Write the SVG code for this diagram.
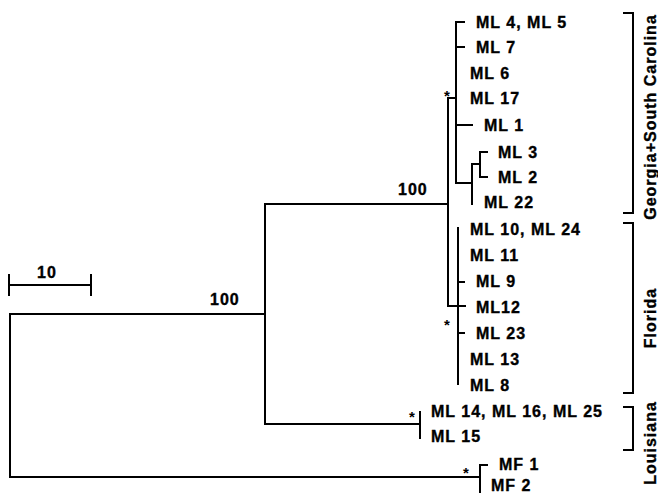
<svg xmlns="http://www.w3.org/2000/svg" width="658" height="495" viewBox="0 0 658 495">
<style>
.t{font-family:"Liberation Sans",Arial,sans-serif;font-weight:bold;font-size:16px;letter-spacing:1px;fill:#000;stroke:#000;stroke-width:0.35}
.s{font-family:"Liberation Sans",Arial,sans-serif;font-weight:bold;font-size:15px;fill:#000;text-anchor:middle}
.r{font-family:"Liberation Sans",Arial,sans-serif;font-weight:bold;font-size:16px;letter-spacing:1px;fill:#000;stroke:#000;stroke-width:0.35;text-anchor:middle}
.l{fill:none;stroke:#000;stroke-width:2;stroke-linecap:square}
</style>
<rect width="658" height="495" fill="#fff"/>
<g id="connectors" class="l">
<path d="M10,314V477M10,314H265M10,477H480"/>
<path d="M265,204V424M265,204H448M265,424H420"/>
<path d="M420,412V438"/>
<path d="M480,465V492M480,465H487"/>
<path d="M448,98V306M448,98H456M448,306H465"/>
<path d="M456,22V183M456,22H464M456,47H464M456,125H472M456,183H472"/>
<path d="M472,164V204M472,164H480M480,152V177M480,152H487M480,177H487"/>
<path d="M458,228V384M458,282H464M458,333H464"/>
</g>
<g id="scale"><path class="l" d="M9,285H91M9,275V295M91,275V295"/><text class="t" x="37" y="278">10</text></g>
<g id="support"><text class="t" x="210" y="305">100</text><text class="t" x="398" y="195">100</text></g>
<g id="stars"><text class="s" x="447" y="101">*</text><text class="s" x="447" y="330">*</text><text class="s" x="412" y="422">*</text><text class="s" x="466" y="478">*</text></g>
<g id="leaves">
<g id="ML4"><text class="t" x="476" y="28">ML 4, ML 5</text></g>
<g id="ML7"><text class="t" x="476" y="53">ML 7</text></g>
<g id="ML6"><text class="t" x="470" y="79">ML 6</text></g>
<g id="ML17"><text class="t" x="470" y="104">ML 17</text></g>
<g id="ML1"><text class="t" x="484" y="131">ML 1</text></g>
<g id="ML3"><text class="t" x="498" y="158">ML 3</text></g>
<g id="ML2"><text class="t" x="498" y="183">ML 2</text></g>
<g id="ML22"><text class="t" x="484" y="208">ML 22</text></g>
<g id="ML10"><text class="t" x="470" y="235">ML 10, ML 24</text></g>
<g id="ML11"><text class="t" x="470" y="261">ML 11</text></g>
<g id="ML9"><text class="t" x="476" y="287">ML 9</text></g>
<g id="ML12"><text class="t" x="476" y="313">ML12</text></g>
<g id="ML23"><text class="t" x="476" y="339">ML 23</text></g>
<g id="ML13"><text class="t" x="470" y="365">ML 13</text></g>
<g id="ML8"><text class="t" x="470" y="391">ML 8</text></g>
<g id="ML14"><text class="t" x="431" y="417">ML 14, ML 16, ML 25</text></g>
<g id="ML15"><text class="t" x="431" y="442">ML 15</text></g>
<g id="MF1"><text class="t" x="499" y="470">MF 1</text></g>
<g id="MF2"><text class="t" x="491" y="491">MF 2</text></g>
</g>
<g id="groups">
<g id="georgia"><path class="l" d="M624,13H633V213H624"/><text class="r" transform="translate(656,117) rotate(-90)">Georgia+South Carolina</text></g>
<g id="florida"><path class="l" d="M624,223H633V393H624"/><text class="r" transform="translate(656,318) rotate(-90)">Florida</text></g>
<g id="louisiana"><path class="l" d="M624,407H633V450H624"/><text class="r" transform="translate(656,443) rotate(-90)">Louisiana</text></g>
</g>
</svg>
